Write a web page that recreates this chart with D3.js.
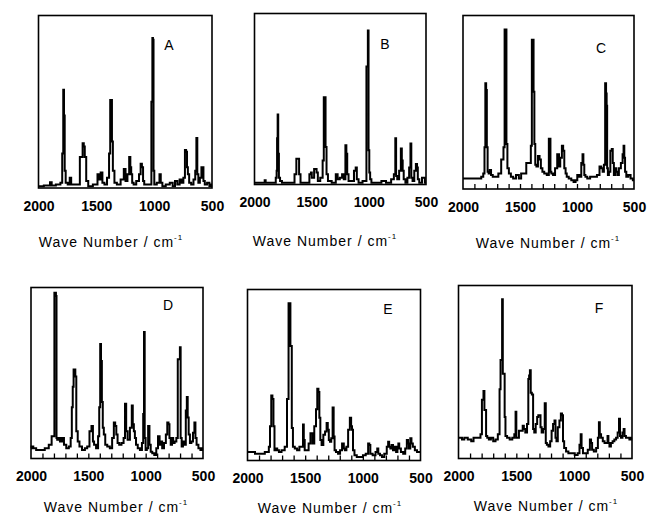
<!DOCTYPE html>
<html>
<head>
<meta charset="utf-8">
<script src="https://cdn.jsdelivr.net/npm/d3@7"></script>
<style>
  body { margin: 0; background: #fff; }
  text { font-family: "Liberation Sans", Arial, sans-serif; fill: #000; }
</style>
</head>
<body>
<div id="chart"></div>
<script>
// spectra as [wave number, relative intensity %]
const specA = [[2000,1],[1908,1.4],[1893,3.3],[1879,1.4],[1821,2],[1800,3],[1790,20],[1782,57],[1777,42],[1770,10],[1760,3],
  [1735,2],[1725,6],[1710,2],[1660,2],[1625,18],[1612,26],[1605,24],[1595,18],[1580,4],[1560,1],
  [1500,2],[1480,8],[1470,5],[1455,9],[1440,3],[1420,2],[1395,6],[1385,20],[1375,51],[1368,51],[1362,27],[1352,10],[1335,3],[1310,2],
  [1270,5],[1255,11],[1240,4],[1222,8],[1210,18],[1202,12],[1195,8],[1185,3],[1170,2],
  [1140,4],[1122,8],[1112,14],[1100,12],[1092,4],[1080,2],[1030,2],[1018,50],[1013,87],[1008,86],[1003,10],[995,2],
  [960,3],[948,8],[938,3],[920,1],[880,2],[850,3],[830,1],[810,4],[790,2],[770,5],[755,3],
  [740,6],[728,22],[720,21],[712,12],[705,8],[690,3],[670,2],[650,5],[640,10],[630,29],[624,8],[612,3],
  [598,6],[585,12],[578,12],[570,4],[555,2],[530,3],[515,1],[500,2]];

const specB = [[2000,1],[1915,1],[1907,2.5],[1898,1],[1820,1],[1808,4],[1805,8],[1800,27],[1795,41],[1790,18],[1783,4],[1770,2],[1750,1],
  [1660,1],[1640,6],[1628,15],[1615,15],[1605,6],[1590,1],[1530,1],[1510,6],[1503,7],[1495,4],[1462,9],[1452,7],[1440,2],
  [1410,4],[1398,14],[1390,51],[1382,51],[1375,22],[1365,6],[1350,2],[1300,1],[1278,6],[1268,3],[1240,4],[1228,6],[1210,3],
  [1200,23],[1193,18],[1185,6],[1170,2],[1140,2],[1120,8],[1110,10],[1100,3],[1080,1],
  [1030,2],[1012,69],[1005,90],[1000,20],[992,7],[985,3],[970,1],[900,1],[880,2],[820,1],[790,3],[772,6],[765,27],[758,5],[745,3],
  [725,8],[715,21],[708,14],[700,8],[690,3],[670,1],[655,4],[640,10],[632,24],[625,4],[610,2],[595,8],[582,12],[575,10],[568,3],
  [550,1],[520,4],[500,1]];

const specC = [[2000,6],[1850,6],[1830,7],[1815,9],[1808,24],[1800,61],[1794,57],[1788,24],[1780,10],[1770,9],[1760,11],[1748,8],[1730,7],[1700,7],[1680,9],
  [1650,17],[1640,24],[1630,92],[1622,92],[1616,26],[1605,12],[1590,9],[1570,7],[1550,6],[1520,8],[1500,6],[1480,9],
  [1410,15],[1400,25],[1392,86],[1384,86],[1378,56],[1370,26],[1362,14],[1350,13],[1335,19],[1322,17],[1312,12],[1295,10],[1280,9],
  [1250,8],[1244,29],[1236,29],[1230,10],[1220,9],[1200,8],[1185,12],[1162,20],[1154,13],[1140,18],[1125,25],[1118,22],[1105,12],
  [1095,9],[1085,7],[1060,6],[1040,5],[1020,4],[1005,5],[990,8],[970,7],[955,15],[948,20],[940,14],[932,8],[920,7],[900,6],
  [870,7],[840,7],[810,8],[795,13],[780,12],[770,10],[758,14],[748,61],[742,55],[738,48],[733,12],[725,8],[715,10],[700,22],
  [690,23],[683,15],[670,8],[660,12],[650,10],[640,8],[625,12],[605,15],[595,20],[588,25],[582,18],[575,10],[560,7],[540,8],[520,6],[500,5]];

const specD = [[2000,6],[1990,7],[1970,6],[1940,5],[1900,5],[1860,6],[1830,8],[1810,13],[1800,13],[1792,97],[1785,97],[1780,95],[1775,12],
  [1768,11],[1755,12],[1740,10],[1720,12],[1705,8],[1680,6],[1660,7],[1648,12],[1640,30],[1632,42],[1625,52],[1617,52],[1610,48],
  [1600,16],[1585,10],[1570,7],[1540,5],[1520,6],[1500,7],[1480,16],[1465,19],[1455,10],[1445,8],[1420,6],[1410,13],[1400,30],
  [1393,67],[1386,57],[1378,33],[1370,18],[1360,14],[1345,8],[1325,7],[1300,6],[1285,12],[1270,21],[1262,19],[1250,14],[1240,9],
  [1222,8],[1200,9],[1185,12],[1175,32],[1165,16],[1150,11],[1125,18],[1117,31],[1108,20],[1098,16],[1090,12],[1078,8],[1060,6],
  [1040,5],[1025,9],[1018,26],[1011,74],[1006,12],[995,5],[985,6],[972,19],[962,8],[950,4],[935,3],[915,2],[900,6],[885,13],
  [872,8],[862,10],[850,6],[830,9],[818,14],[805,21],[797,20],[788,12],[775,8],[765,12],[755,9],[740,10],[725,12],[715,58],
  [705,58],[698,65],[692,12],[680,7],[670,10],[655,8],[645,28],[637,36],[630,24],[620,14],[608,9],[595,10],[580,15],[570,21],
  [562,12],[550,8],[530,6],[515,5],[500,6]];

const specE = [[2000,5],[1950,5],[1920,4],[1880,4],[1820,5],[1810,8],[1800,20],[1788,38],[1780,36],[1770,20],[1762,6],[1750,7],
  [1735,6],[1720,5],[1690,6],[1665,8],[1650,36],[1638,92],[1630,92],[1626,67],[1620,67],[1612,19],[1600,8],[1580,7],[1560,6],
  [1540,8],[1522,8],[1516,21],[1508,12],[1500,6],[1480,6],[1460,10],[1448,16],[1440,16],[1432,10],[1410,20],[1402,30],[1388,42],
  [1382,40],[1372,25],[1365,12],[1350,9],[1335,15],[1320,17],[1308,22],[1300,18],[1290,12],[1280,11],[1268,13],[1256,31],[1250,14],
  [1240,6],[1225,5],[1205,4],[1190,6],[1170,10],[1160,7],[1150,6],[1135,8],[1120,18],[1105,25],[1098,20],[1090,18],[1080,6],
  [1065,3],[1040,2],[1008,2],[990,3],[960,4],[948,10],[940,9],[930,4],[900,3],[880,5],[870,7],[862,4],[840,3],[828,2],[800,4],
  [785,8],[776,11],[768,8],[755,7],[747,9],[730,6],[718,8],[705,5],[695,8],[689,10],[680,7],[660,5],[640,4],[625,7],[612,12],
  [605,10],[595,7],[582,13],[575,10],[558,8],[540,6],[520,5],[500,5]];

const specF = [[2000,12],[1980,12],[1960,11],[1940,12],[1900,11],[1880,10],[1860,12],[1820,12],[1800,14],[1795,34],[1788,34],
  [1780,39],[1772,28],[1765,28],[1758,13],[1745,12],[1730,11],[1710,12],[1690,10],[1670,11],[1650,14],[1640,40],[1633,57],
  [1626,57],[1620,92],[1614,49],[1604,49],[1598,24],[1590,13],[1570,12],[1545,11],[1525,12],[1510,14],[1503,27],[1497,12],
  [1485,12],[1470,16],[1450,16],[1440,19],[1430,17],[1415,15],[1400,20],[1393,46],[1386,48],[1379,51],[1372,38],[1360,37],
  [1350,17],[1340,15],[1325,20],[1315,24],[1305,25],[1295,25],[1287,18],[1275,15],[1260,17],[1249,32],[1242,9],[1230,8],
  [1215,7],[1200,10],[1190,16],[1175,20],[1165,22],[1158,12],[1148,10],[1135,18],[1120,22],[1110,26],[1100,25],[1093,10],
  [1080,6],[1060,4],[1040,3],[1010,3],[980,2],[960,3],[948,8],[939,14],[933,6],[915,3],[895,3],[870,5],[858,11],[850,9],
  [840,5],[820,4],[800,6],[790,12],[782,21],[775,14],[760,12],[745,10],[730,9],[715,9],[708,13],[700,9],[690,7],[675,9],
  [660,10],[645,11],[630,12],[618,15],[607,23],[600,13],[590,12],[575,15],[569,17],[560,13],[545,12],[530,12],[515,11],[500,12]];

const panelNames = ["A", "B", "C", "D", "E", "F"];
const spectra = [specA, specB, specC, specD, specE, specF];
const labelTicks = [2000, 1500, 1000, 500];
const minorTicks = [1900, 1800, 1700, 1600, 1500, 1400, 1300, 1200, 1100, 1000, 900, 800, 700, 600];
const xTitle = "Wave Number / cm";

// where each frame sits on the page
const layout = [
  {x0: 38.5, x1: 212, y0: 15.5, y1: 188, titleX: 111, titleY: 242, ticks: false, lx: 169, ly: 45},
  {x0: 254.5, x1: 426, y0: 13.5, y1: 184.5, titleX: 325, titleY: 241, ticks: false, lx: 385, ly: 44},
  {x0: 463, x1: 634, y0: 15.5, y1: 189, titleX: 548, titleY: 243, ticks: true, lx: 601, ly: 48},
  {x0: 31, x1: 203, y0: 287.5, y1: 458.5, titleX: 116, titleY: 507, ticks: true, lx: 168, ly: 305},
  {x0: 247.5, x1: 420.5, y0: 289.5, y1: 460.5, titleX: 330, titleY: 508, ticks: true, lx: 388, ly: 309},
  {x0: 458.5, x1: 632, y0: 285.5, y1: 458.5, titleX: 546, titleY: 506, ticks: true, lx: 599, ly: 308}
];

const width = 647;
const height = 517;

const svg = d3.select("#chart")
  .append("svg")
  .attr("width", width)
  .attr("height", height);

layout.forEach((p, i) => {
  const xScale = d3.scaleLinear().domain([2000, 500]).range([p.x0, p.x1]);
  const yScale = d3.scaleLinear().domain([0, 100]).range([p.y1, p.y0]);

  const g = svg.append("g");

  const line = d3.line()
    .curve(d3.curveStep)
    .x(d => xScale(d[0]))
    .y(d => yScale(d[1]));

  g.append("path")
    .datum(spectra[i])
    .attr("d", line)
    .attr("fill", "none")
    .attr("stroke", "#000")
    .attr("stroke-width", 2)
    .attr("stroke-linejoin", "miter");

  if (p.ticks) {
    g.append("g")
      .attr("transform", `translate(0, ${p.y1})`)
      .call(d3.axisBottom(xScale).tickValues(minorTicks).tickSize(-5).tickFormat(""))
      .call(a => a.select(".domain").remove())
      .call(a => a.selectAll("line").attr("stroke", "#000").attr("stroke-width", 1.3));
  }

  g.append("g")
    .attr("transform", `translate(0, ${p.y1})`)
    .call(d3.axisBottom(xScale).tickValues(labelTicks).tickSize(0).tickPadding(13).tickFormat(d3.format("d")))
    .call(a => a.select(".domain").remove())
    .call(a => a.selectAll("text")
      .attr("font-family", "'Liberation Sans', Arial, sans-serif")
      .attr("font-size", 14)
      .attr("font-weight", "bold")
      .attr("fill", "#000"));

  g.append("rect")
    .attr("x", p.x0)
    .attr("y", p.y0)
    .attr("width", p.x1 - p.x0)
    .attr("height", p.y1 - p.y0)
    .attr("fill", "none")
    .attr("stroke", "#000")
    .attr("stroke-width", 1.6);

  g.append("text")
    .attr("x", p.lx)
    .attr("y", p.ly)
    .attr("text-anchor", "middle")
    .attr("dominant-baseline", "central")
    .attr("font-size", 14)
    .text(panelNames[i]);

  const t = g.append("text")
    .attr("x", p.titleX)
    .attr("y", p.titleY + 5)
    .attr("text-anchor", "middle")
    .attr("font-size", 14)
    .attr("letter-spacing", 1)
    .text(xTitle);
  t.append("tspan")
    .attr("dy", -7)
    .attr("font-size", 8)
    .text("-1");
});
</script>
</body>
</html>
